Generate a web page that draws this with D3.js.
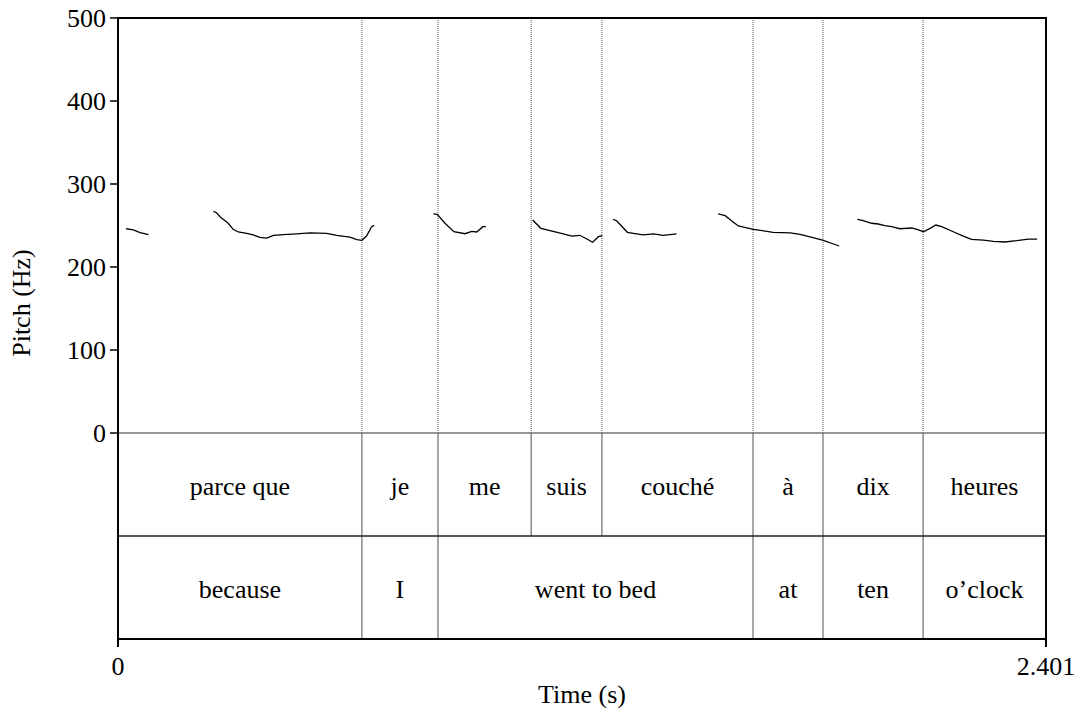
<!DOCTYPE html>
<html><head>
<meta charset="utf-8">
<script src="https://cdn.jsdelivr.net/npm/d3@7"></script>
</head><body style="margin:0;background:#fff">
<script>
const duration = 2.401;
const yTicks = [0,100,200,300,400,500];
const xTickLabels = ["0","2.401"];
// Tier 1 (French words): [start, end, label]
const tier1 = [[0,0.631,"parce que"],[0.631,0.828,"je"],[0.828,1.069,"me"],[1.069,1.252,"suis"],[1.252,1.643,"couché"],[1.643,1.824,"à"],[1.824,2.083,"dix"],[2.083,2.401,"heures"]];
// Tier 2 (English gloss)
const tier2 = [[0,0.631,"because"],[0.631,0.828,"I"],[0.828,1.643,"went to bed"],[1.643,1.824,"at"],[1.824,2.083,"ten"],[2.083,2.401,"o’clock"]];
// Pitch contour segments: [time (s), pitch (Hz)]
const pitch1 = [[0.021,246.1],[0.040,244.6],[0.057,241.3],[0.079,238.9]];
const pitch2 = [[0.247,267.1],[0.255,265.4],[0.264,260.6],[0.277,255.8],[0.285,252.7],[0.298,245.4],[0.311,242.2],[0.333,240.6],[0.350,238.6],[0.367,235.8],[0.385,234.9],[0.402,238.2],[0.428,238.9],[0.462,239.8],[0.497,241.0],[0.540,240.6],[0.566,238.2],[0.600,236.1],[0.618,232.9],[0.631,232.2],[0.643,237.3],[0.656,248.6],[0.663,250.2]];
const pitch3 = [[0.816,263.9],[0.826,263.5],[0.846,252.7],[0.869,242.5],[0.898,240.1],[0.915,243.0],[0.928,242.2],[0.944,248.6],[0.952,248.6]];
const pitch4 = [[1.073,256.6],[1.094,246.6],[1.118,243.7],[1.152,239.8],[1.174,237.1],[1.195,238.2],[1.213,233.7],[1.228,229.8],[1.243,236.5],[1.253,237.7]];
const pitch5 = [[1.281,257.5],[1.290,255.8],[1.318,241.8],[1.333,240.6],[1.359,238.6],[1.385,239.8],[1.411,238.2],[1.445,239.8]];
const pitch6 = [[1.553,263.9],[1.571,261.8],[1.588,255.4],[1.605,249.4],[1.644,245.4],[1.695,241.8],[1.739,241.0],[1.765,239.4],[1.823,232.5],[1.851,227.7],[1.866,225.3]];
const pitch7 = [[1.913,257.5],[1.928,255.8],[1.950,252.7],[1.967,251.8],[1.984,249.8],[2.002,248.6],[2.023,246.1],[2.054,247.0],[2.071,244.6],[2.084,242.5],[2.101,246.6],[2.116,250.6],[2.131,248.6],[2.161,242.5],[2.187,237.3],[2.208,233.3],[2.239,232.5],[2.265,230.9],[2.295,230.1],[2.325,231.7],[2.355,233.7],[2.378,233.7]];
const pitchSegments = [pitch1,pitch2,pitch3,pitch4,pitch5,pitch6,pitch7];

const W=1076,H=708;
const L=118,R=1046,T=18,P0=433,T1=536,B=639;
const FS=26;
const svg=d3.select("body").append("svg").attr("width",W).attr("height",H).style("display","block");
const x=d3.scaleLinear().domain([0,duration]).range([L,R]);
const y=d3.scaleLinear().domain([0,500]).range([P0,T]);
function txt(sel){ return sel.attr("font-family","Liberation Serif").style("font-family",'"Liberation Serif", "Times New Roman", Tinos, serif').attr("font-size",FS).attr("fill","#000"); }

const bounds1 = tier1.slice(1).map(d=>d[0]);
const bounds2 = tier2.slice(1).map(d=>d[0]);
svg.selectAll(".bd").data(bounds1).enter().append("line")
  .attr("x1",d=>x(d)).attr("x2",d=>x(d)).attr("y1",T).attr("y2",P0)
  .attr("stroke","#555").attr("stroke-width",1).attr("stroke-dasharray","1,1");
svg.selectAll(".b1").data(bounds1).enter().append("line")
  .attr("x1",d=>x(d)).attr("x2",d=>x(d)).attr("y1",P0).attr("y2",T1)
  .attr("stroke","#777").attr("stroke-width",1.3);
svg.selectAll(".b2").data(bounds2).enter().append("line")
  .attr("x1",d=>x(d)).attr("x2",d=>x(d)).attr("y1",T1).attr("y2",B)
  .attr("stroke","#777").attr("stroke-width",1.3);
svg.append("line").attr("x1",L).attr("x2",R).attr("y1",P0).attr("y2",P0).attr("stroke","#777").attr("stroke-width",1.3);
svg.append("line").attr("x1",L).attr("x2",R).attr("y1",T1).attr("y2",T1).attr("stroke","#222").attr("stroke-width",1.5);

txt(svg.selectAll(".t1").data(tier1).enter().append("text"))
  .attr("x",d=>(x(d[0])+x(d[1]))/2).attr("y",(P0+T1)/2+10)
  .attr("text-anchor","middle").text(d=>d[2]);
txt(svg.selectAll(".t2").data(tier2).enter().append("text"))
  .attr("x",d=>(x(d[0])+x(d[1]))/2).attr("y",(T1+B)/2+10)
  .attr("text-anchor","middle").text(d=>d[2]);

const line=d3.line().x(d=>x(d[0])).y(d=>y(d[1]));
svg.selectAll(".p").data(pitchSegments).enter().append("path")
  .attr("d",line).attr("fill","none").attr("stroke","#000").attr("stroke-width",1.3);

svg.append("rect").attr("x",L).attr("y",T).attr("width",R-L).attr("height",B-T)
  .attr("fill","none").attr("stroke","#000").attr("stroke-width",2);

svg.selectAll(".yt").data(yTicks).enter().append("line")
  .attr("x1",L-8).attr("x2",L).attr("y1",d=>y(d)).attr("y2",d=>y(d))
  .attr("stroke","#000").attr("stroke-width",1.5);
txt(svg.selectAll(".yl").data(yTicks).enter().append("text"))
  .attr("x",L-12).attr("y",d=>y(d)+9).attr("text-anchor","end").text(d=>d);
const xt=[0,duration];
svg.selectAll(".xt").data(xt).enter().append("line")
  .attr("x1",d=>x(d)).attr("x2",d=>x(d)).attr("y1",B).attr("y2",B+8)
  .attr("stroke","#000").attr("stroke-width",2);
txt(svg.selectAll(".xl").data(xt).enter().append("text"))
  .attr("x",d=>x(d)).attr("y",675).attr("text-anchor","middle")
  .text((d,i)=>xTickLabels[i]);
txt(svg.append("text")).attr("x",(L+R)/2).attr("y",703).attr("text-anchor","middle").text("Time (s)");
txt(svg.append("text")).attr("transform",`translate(${30},${303}) rotate(-90)`)
  .attr("text-anchor","middle").text("Pitch (Hz)");
</script></body></html>
